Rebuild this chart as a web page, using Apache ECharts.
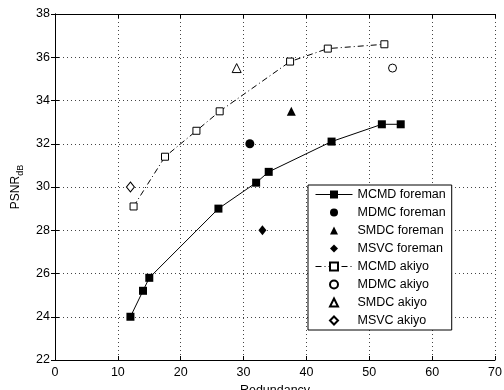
<!DOCTYPE html>
<html><head><meta charset="utf-8">
<script src="https://cdn.jsdelivr.net/npm/echarts@6/dist/echarts.min.js"></script>
<style>html,body{margin:0;padding:0;background:#fff}#c{width:504px;height:390px}</style>
</head><body><div id="c"></div>
<script>
const xTicks = [0, 10, 20, 30, 40, 50, 60, 70];
const yTicks = [22, 24, 26, 28, 30, 32, 34, 36, 38];
const mcmdForeman = [[12, 24.0], [14, 25.2], [15, 25.8], [26, 29.0], [32, 30.2], [34, 30.7], [44, 32.1], [52, 32.9], [55, 32.9]];
const mdmcForeman = [[31, 32.0]];
const smdcForeman = [[37.6, 33.5]];
const msvcForeman = [[33, 28.0]];
const mcmdAkiyo = [[12.5, 29.1], [17.5, 31.4], [22.5, 32.6], [26.2, 33.5], [37.4, 35.8], [43.4, 36.4], [52.4, 36.6]];
const mdmcAkiyo = [[53.7, 35.5]];
const smdcAkiyo = [[28.9, 35.5]];
const msvcAkiyo = [[12, 30.0]];

const FONT = 'Liberation Sans';
const FS = 12.5;
const chart = echarts.init(document.getElementById('c'), null, {renderer: 'canvas'});
const filled = {color: '#000'};
const hollow = {color: '#fff', borderColor: '#000', borderWidth: 1};
const scat = (name, data, symbol, size, style) => ({
  name, type: 'line', data, symbol, symbolSize: size, itemStyle: style, z: 5,
  lineStyle: {opacity: 0, width: 0}
});
chart.setOption({
  animation: false,
  textStyle: {fontFamily: FONT},
  grid: {left: 55, right: 9, top: 14, bottom: 30, outerBoundsMode: 'none', containLabel: false},
  xAxis: [{
    type: 'value', min: 0, max: 70, interval: 10,
    name: 'Redundancy', nameLocation: 'middle', nameGap: 23,
    nameTextStyle: {fontSize: FS, color: '#000', fontFamily: FONT},
    axisLine: {lineStyle: {color: '#000', width: 1}},
    axisTick: {inside: true, length: 4, lineStyle: {color: '#000'}},
    axisLabel: {fontSize: FS, color: '#000', margin: 6, fontFamily: FONT},
    splitLine: {show: true, lineStyle: {color: '#444', type: [1, 3], width: 1}}
  }, {
    type: 'value', min: 0, max: 70, interval: 10, position: 'top',
    axisLine: {show: true, lineStyle: {color: '#000'}},
    axisTick: {show: true, inside: true, length: 4, lineStyle: {color: '#000'}},
    axisLabel: {show: false}, splitLine: {show: false}
  }],
  yAxis: [{
    type: 'value', min: 22, max: 38, interval: 2,
    name: '{a|PSNR}{b|dB}', nameLocation: 'middle', nameGap: 28, nameRotate: 90,
    nameTextStyle: {
      color: '#000', fontFamily: FONT,
      rich: {
        a: {fontSize: 12, fontFamily: FONT, color: '#000', verticalAlign: 'bottom', lineHeight: 14},
        b: {fontSize: 9, fontFamily: FONT, color: '#000', verticalAlign: 'bottom', lineHeight: 14, padding: [0, 0, -4, 0]}
      }
    },
    axisLine: {show: true, lineStyle: {color: '#000', width: 1}},
    axisTick: {show: true, inside: true, length: 4, lineStyle: {color: '#000'}},
    axisLabel: {fontSize: FS, color: '#000', margin: 5, fontFamily: FONT},
    splitLine: {show: true, lineStyle: {color: '#444', type: [1, 3], width: 1}}
  }, {
    type: 'value', min: 22, max: 38, interval: 2, position: 'right',
    axisLine: {show: true, lineStyle: {color: '#000'}},
    axisTick: {show: true, inside: true, length: 4, lineStyle: {color: '#000'}},
    axisLabel: {show: false}, splitLine: {show: false}
  }],
  legend: {
    orient: 'vertical', left: 308, top: 185,
    backgroundColor: '#fff', borderColor: '#000', borderWidth: 1,
    padding: [3, 6, 3, 7],
    itemWidth: 37, itemHeight: 10, itemGap: 5,
    lineStyle: {width: 1},
    textStyle: {fontSize: FS, color: '#000', fontFamily: FONT, lineHeight: 13},
    data: ['MCMD foreman', 'MDMC foreman', 'SMDC foreman', 'MSVC foreman', 'MCMD akiyo', 'MDMC akiyo', 'SMDC akiyo', 'MSVC akiyo']
  },
  series: [
    {name: 'MCMD foreman', type: 'line', data: mcmdForeman, symbol: 'rect', symbolSize: 8,
      itemStyle: filled, lineStyle: {color: '#000', width: 1}, z: 4},
    scat('MDMC foreman', mdmcForeman, 'circle', 9, filled),
    scat('SMDC foreman', smdcForeman, 'triangle', 9, filled),
    scat('MSVC foreman', msvcForeman, 'diamond', [8, 10], filled),
    {name: 'MCMD akiyo', type: 'line', data: mcmdAkiyo, symbol: 'rect', symbolSize: 7,
      itemStyle: hollow, lineStyle: {color: '#000', width: 1, type: [6, 3, 1, 3]}, z: 4},
    scat('MDMC akiyo', mdmcAkiyo, 'circle', 8, hollow),
    scat('SMDC akiyo', smdcAkiyo, 'triangle', 9, hollow),
    scat('MSVC akiyo', msvcAkiyo, 'diamond', [8, 10], hollow)
  ]
});
</script></body></html>
